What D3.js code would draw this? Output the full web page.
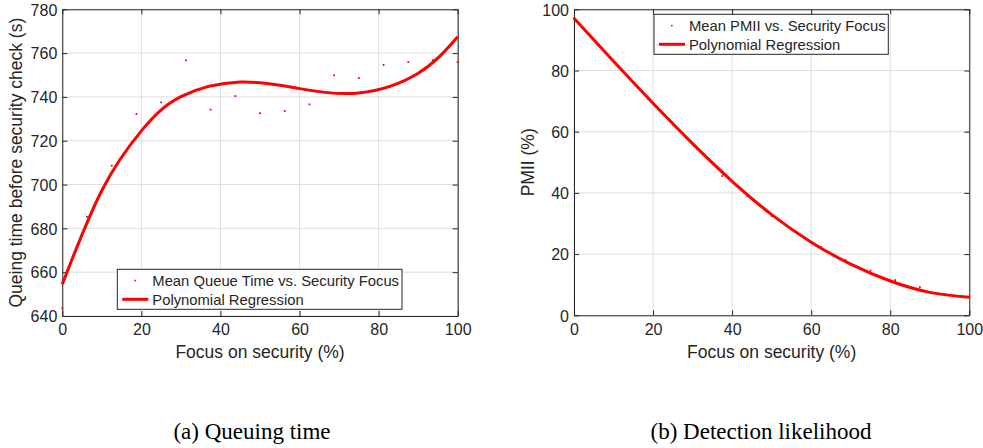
<!DOCTYPE html>
<html>
<head>
<meta charset="utf-8">
<script src="https://cdn.jsdelivr.net/npm/d3@7"></script>
<style>
	body { margin: 0; background: #fff; }
	svg { display: block; }
	text { font-family: "Liberation Sans", Arial, sans-serif; fill: #262626; }
	.caption { font-family: "Liberation Serif", "DejaVu Serif", serif; fill: #000; }
</style>
</head>
<body>
<svg width="983" height="448"></svg>
<script>
'use strict';

// focus on security (%) for every simulated configuration
var focus = [0, 6.25, 12.5, 18.75, 25, 31.25, 37.5, 43.75, 50, 56.25, 62.5, 68.75, 75, 81.25, 87.5, 93.75, 100];

// mean queue time (s) per configuration
var queueMean = [643.5, 685.3, 708.6, 732.2, 737.5, 756.7, 734.2, 740.4, 732.6, 733.6, 736.6, 749.9, 748.6, 754.6, 755.9, 756.8, 755.9];

// regression curve
var queueFitX = [0, 10, 20, 30, 45, 60, 75, 90, 100];
var queueFit = [654.5, 697.3, 724.5, 740.1, 746.8, 743.8, 741.8, 750.8, 767.5];

// mean PMII (%) per configuration
var pmiiMean = [97.0, 88.4, 79.6, 70.6, 62.3, 54.3, 45.5, 39.0, 32.5, 27.3, 22.3, 18.0, 14.6, 11.5, 9.2, 7.0, 6.0];

var pmiiFitX = [0, 10, 20, 30, 40, 50, 60, 70, 80, 90, 100];
var pmiiFit = [97.1, 83.0, 69.3, 56.1, 43.8, 32.9, 23.9, 16.7, 11.2, 7.5, 5.9];

var xTicks = [0, 20, 40, 60, 80, 100];
var queueTicks = [640, 660, 680, 700, 720, 740, 760, 780];
var pmiiTicks = [0, 20, 40, 60, 80, 100];

var svg = d3.select('svg');

/**
 * Draw one MATLAB style panel
 */
function drawPanel(opt) {
	var x = d3.scaleLinear().domain([0, 100]).range([opt.left, opt.right]);
	var y = d3.scaleLinear().domain(opt.yDomain).range([opt.bottom, opt.top]);
	var g = svg.append('g');

	// grid
	g.selectAll('line.gx').data(xTicks).enter().append('line')
		.attr('x1', x).attr('x2', x).attr('y1', opt.top).attr('y2', opt.bottom)
		.attr('stroke', '#dfdfdf').attr('stroke-width', 1);
	g.selectAll('line.gy').data(opt.yTicks).enter().append('line')
		.attr('y1', y).attr('y2', y).attr('x1', opt.left).attr('x2', opt.right)
		.attr('stroke', '#dfdfdf').attr('stroke-width', 1);

	// axes with inward ticks, box on
	var ax = [
		[d3.axisBottom(x), 'translate(0,' + opt.bottom + ')', true],
		[d3.axisTop(x), 'translate(0,' + opt.top + ')', false],
		[d3.axisLeft(y), 'translate(' + opt.left + ',0)', true],
		[d3.axisRight(y), 'translate(' + opt.right + ',0)', false]
	];
	ax.forEach(function (a, i) {
		var axis = a[0].tickValues(i < 2 ? xTicks : opt.yTicks).tickSizeInner(-5).tickSizeOuter(0);
		var ag = g.append('g').attr('transform', a[1]).call(axis);
		ag.select('.domain').attr('stroke', '#262626').attr('stroke-width', 1);
		ag.selectAll('.tick line').attr('stroke', '#262626');
		if (!a[2]) {
			ag.selectAll('.tick text').remove();
			return;
		}
		ag.selectAll('.tick text')
			.attr('fill', '#262626')
			.style('font-size', '16px')
			.style('font-family', '"Liberation Sans", Arial, sans-serif');
		if (i === 0) {
			ag.selectAll('.tick text').attr('y', 8).attr('dy', '0.71em');
		} else {
			ag.selectAll('.tick text').attr('x', -5).attr('dy', '0.36em');
		}
	});

	// regression curve
	var line = d3.line()
		.x(function (d) { return x(d[0]); })
		.y(function (d) { return y(d[1]); })
		.curve(d3.curveNatural);
	g.append('path')
		.datum(d3.zip(opt.fitX, opt.fit))
		.attr('d', line)
		.attr('fill', 'none')
		.attr('stroke', '#ff0000')
		.attr('stroke-width', 3);

	// mean points
	g.selectAll('rect.pt').data(d3.zip(focus, opt.mean)).enter().append('rect')
		.attr('x', function (d) { return x(d[0]) - 0.9; })
		.attr('y', function (d) { return y(d[1]) - 0.9; })
		.attr('width', 1.8).attr('height', 1.8)
		.attr('fill', '#ff0000');

	// axis labels
	g.append('text')
		.attr('x', (opt.left + opt.right) / 2).attr('y', 358)
		.attr('text-anchor', 'middle')
		.style('font-size', '17.5px')
		.text('Focus on security (%)');
	g.append('text')
		.attr('transform', 'translate(' + opt.yLabelX + ',' + ((opt.top + opt.bottom) / 2) + ') rotate(-90)')
		.attr('text-anchor', 'middle')
		.style('font-size', '17.5px')
		.text(opt.yLabel);

	// legend
	var lg = g.append('g').attr('transform', 'translate(' + opt.legend[0] + ',' + opt.legend[1] + ')');
	lg.append('rect')
		.attr('width', opt.legend[2]).attr('height', 40)
		.attr('fill', '#fff').attr('stroke', '#262626').attr('stroke-width', 1);
	lg.append('rect').attr('x', 17).attr('y', 10.5).attr('width', 1.6).attr('height', 1.6).attr('fill', '#ff0000');
	lg.append('line').attr('x1', 5).attr('x2', 31).attr('y1', 30).attr('y2', 30)
		.attr('stroke', '#ff0000').attr('stroke-width', 3);
	lg.append('text').attr('x', 35).attr('y', 11.5).attr('dy', '0.36em')
		.style('font-size', '14.8px').attr('fill', '#000').text(opt.legendText);
	lg.append('text').attr('x', 35).attr('y', 30).attr('dy', '0.36em')
		.style('font-size', '14.8px').attr('fill', '#000').text('Polynomial Regression');

	// sub caption
	svg.append('text')
		.attr('class', 'caption')
		.attr('x', opt.captionX).attr('y', 439)
		.attr('text-anchor', 'middle')
		.style('font-size', '23px')
		.text(opt.caption);
}

drawPanel({
	left: 62.3, right: 457.7, top: 9.3, bottom: 316,
	yDomain: [640, 780], yTicks: queueTicks,
	mean: queueMean, fitX: queueFitX, fit: queueFit,
	yLabel: 'Queing time before security check (s)', yLabelX: 22,
	legend: [117.3, 269.3, 284.7], legendText: 'Mean Queue Time vs. Security Focus',
	caption: '(a) Queuing time', captionX: 252
});

drawPanel({
	left: 574, right: 969.3, top: 9.3, bottom: 315.3,
	yDomain: [0, 100], yTicks: pmiiTicks,
	mean: pmiiMean, fitX: pmiiFitX, fit: pmiiFit,
	yLabel: 'PMII (%)', yLabelX: 534,
	legend: [654, 14.3, 234.3], legendText: 'Mean PMII vs. Security Focus',
	caption: '(b) Detection likelihood', captionX: 761
});
</script>
</body>
</html>
